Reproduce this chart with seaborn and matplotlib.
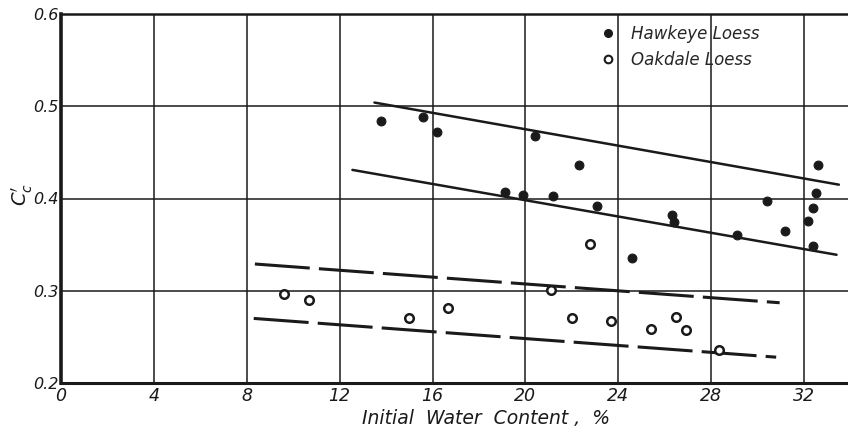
import numpy as np
import pandas as pd
import matplotlib
matplotlib.use("Agg")
import matplotlib.pyplot as plt
import seaborn as sns
from matplotlib.lines import Line2D

# ---- data ----
hawkeye_x = [13.8, 15.6, 16.2, 19.1, 19.9, 20.4, 21.2, 22.3, 23.1, 24.6,
             26.3, 26.4, 29.1, 30.4, 31.2, 32.15, 32.4, 32.4, 32.5, 32.6]
hawkeye_y = [0.484, 0.488, 0.472, 0.407, 0.404, 0.468, 0.403, 0.436, 0.392, 0.336,
             0.382, 0.375, 0.360, 0.397, 0.365, 0.376, 0.390, 0.348, 0.406, 0.436]

oakdale_x = [9.6, 10.7, 15.0, 16.65, 21.1, 22.0, 22.8, 23.7, 25.4, 26.5, 26.9, 28.35]
oakdale_y = [0.297, 0.290, 0.271, 0.281, 0.301, 0.271, 0.351, 0.267, 0.258, 0.272, 0.257, 0.236]

upper_solid_x = [13.5, 33.5]
upper_solid_y = [0.504, 0.415]
lower_solid_x = [12.55, 33.4]
lower_solid_y = [0.431, 0.339]
upper_dash_x = [8.35, 30.95]
upper_dash_y = [0.329, 0.287]
lower_dash_x = [8.3, 30.8]
lower_dash_y = [0.270, 0.228]

x_ticks = [0, 4, 8, 12, 16, 20, 24, 28, 32]
x_tick_labels = ["0", "4", "8", "12", "16", "20", "24", "28", "32"]
y_ticks = [0.2, 0.3, 0.4, 0.5, 0.6]
y_tick_labels = ["0.2", "0.3", "0.4", "0.5", "0.6"]
series_names = ["Hawkeye Loess", "Oakdale Loess"]

# ---- figure ----
sns.set_theme(style="white")
plt.rcParams["font.family"] = ["DejaVu Sans"]

fig = plt.figure(figsize=(8.48, 4.32), dpi=100)
ax = fig.add_axes([61 / 848, 1 - 383 / 432, 1 - 61 / 848, (383 - 14) / 432])

# regression lines
sns.lineplot(x=upper_solid_x, y=upper_solid_y, ax=ax, color="#1a1a1a", lw=1.8, legend=False)
sns.lineplot(x=lower_solid_x, y=lower_solid_y, ax=ax, color="#1a1a1a", lw=1.8, legend=False)
sns.lineplot(x=upper_dash_x, y=upper_dash_y, ax=ax, color="#1a1a1a", lw=2.2, legend=False)
ax.lines[-1].set_dashes((18, 3))
sns.lineplot(x=lower_dash_x, y=lower_dash_y, ax=ax, color="#1a1a1a", lw=2.2, legend=False)
ax.lines[-1].set_dashes((18, 3))

# points
sns.scatterplot(x=hawkeye_x, y=hawkeye_y, ax=ax, s=40, color="#1a1a1a",
                edgecolor="#1a1a1a", linewidth=0.8, zorder=3, legend=False)
sns.scatterplot(x=oakdale_x, y=oakdale_y, ax=ax, s=38, facecolor="white",
                edgecolor="#1a1a1a", linewidth=1.8, zorder=3, legend=False)

ax.set_xlim(0, (848 - 61) / 23.22)
ax.set_ylim(0.2, 0.6)
ax.set_xticks(x_ticks)
ax.set_xticklabels(x_tick_labels, fontsize=12.5, style="italic")
ax.set_yticks(y_ticks)
ax.set_yticklabels(y_tick_labels, fontsize=11.5, style="italic")
ax.tick_params(axis="both", length=0, pad=3, colors="#1a1a1a")
ax.tick_params(axis="y", pad=2)

ax.grid(True, color="#1a1a1a", linewidth=1.1)
ax.set_axisbelow(True)

for side, w in [("left", 2.6), ("bottom", 2.2), ("top", 1.8)]:
    ax.spines[side].set_visible(True)
    ax.spines[side].set_color("#1a1a1a")
    ax.spines[side].set_linewidth(w)
ax.spines["right"].set_visible(False)

ax.set_xlabel("Initial  Water  Content ,  %", fontsize=13.5, style="italic", color="#1a1a1a")
ax.xaxis.set_label_coords(0.54, -0.07)
ax.set_ylabel("")
fig.text(22 / 848, 1 - 195 / 432, "$C_c'$", fontsize=14, color="#1a1a1a",
         rotation=90, ha="center", va="center")

handles = [
    Line2D([0], [0], marker="o", linestyle="none", markersize=5.5,
           markerfacecolor="#1a1a1a", markeredgecolor="#1a1a1a"),
    Line2D([0], [0], marker="o", linestyle="none", markersize=5.5,
           markerfacecolor="white", markeredgecolor="#1a1a1a", markeredgewidth=1.5),
]
leg = ax.legend(handles, series_names, loc="upper left", bbox_to_anchor=(0.655, 1.01),
                frameon=False, handletextpad=0.4, labelspacing=0.45,
                prop={"size": 12, "style": "italic"})

fig.savefig("out.png", dpi=100)
